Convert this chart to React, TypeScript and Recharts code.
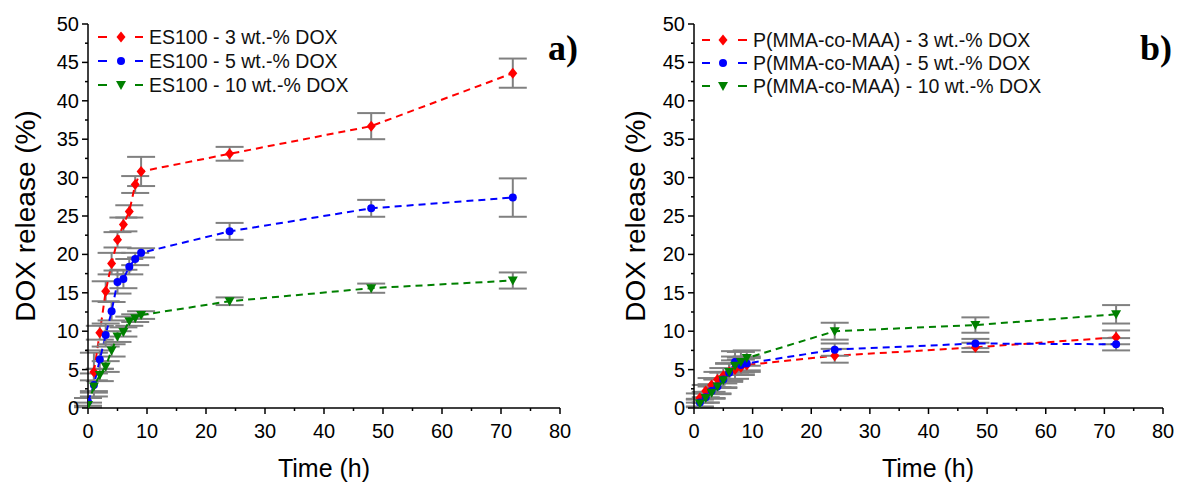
import React from "react";
import { LineChart, Line, XAxis, YAxis, ErrorBar, Label } from "recharts";

// time points (h)
const T_RED = [1, 2, 3, 4, 5, 6, 7, 8, 9, 24, 48, 72];
const T_ZERO = [0, 1, 2, 3, 4, 5, 6, 7, 8, 9, 24, 48, 72];

// a) ES100
const ES_3 = [4.7, 9.8, 15.2, 18.8, 21.9, 23.9, 25.6, 29.1, 30.8, 33.1, 36.7, 43.6];
const ES_3_ERR = [2.5, 0.9, 1.3, 1.4, 1.0, 0.9, 0.8, 1.1, 1.9, 0.9, 1.7, 1.9];
const ES_5 = [0.8, 3.0, 6.3, 9.5, 12.6, 16.4, 16.8, 18.4, 19.4, 20.2, 23.0, 26.0, 27.4];
const ES_5_ERR = [0.5, 1.5, 1.2, 1.5, 1.2, 1.5, 1.2, 1.0, 0.8, 0.6, 1.1, 1.1, 2.5];
const ES_10 = [0.4, 2.8, 4.3, 5.4, 7.5, 9.3, 9.9, 11.3, 11.7, 12.1, 13.9, 15.6, 16.6];
const ES_10_ERR = [0.3, 0.8, 0.8, 0.7, 0.8, 0.7, 0.6, 0.6, 0.5, 0.5, 0.5, 0.6, 1.05];

// b) P(MMA-co-MAA)
const PM_3 = [1.3, 2.2, 3.0, 3.7, 4.2, 4.7, 5.0, 5.3, 5.6, 6.8, 7.9, 9.2];
const PM_3_ERR = [0.6, 0.8, 0.9, 1.0, 1.0, 1.1, 1.2, 1.0, 0.9, 0.9, 0.6, 0.9];
const PM_5 = [0.7, 1.4, 2.2, 2.8, 3.7, 4.6, 6.0, 5.6, 5.8, 7.6, 8.4, 8.3];
const PM_5_ERR = [0.5, 0.7, 0.9, 1.0, 1.0, 1.2, 1.4, 1.0, 0.9, 0.8, 0.6, 0.8];
const PM_10 = [0.6, 1.3, 2.0, 2.8, 3.6, 4.7, 5.5, 6.0, 6.5, 10.0, 10.8, 12.2];
const PM_10_ERR = [0.5, 0.6, 0.8, 0.9, 1.0, 1.1, 1.2, 1.3, 1.0, 1.1, 1.0, 1.2];

const X_TICKS = [0, 5, 10, 15, 20, 25, 30, 35, 40, 45, 50, 55, 60, 65, 70, 75, 80];
const Y_TICKS = [0, 2.5, 5, 7.5, 10, 12.5, 15, 17.5, 20, 22.5, 25, 27.5, 30, 32.5, 35, 37.5, 40, 42.5, 45, 47.5, 50];

const LEGEND_A = ["ES100 - 3 wt.-% DOX", "ES100 - 5 wt.-% DOX", "ES100 - 10 wt.-% DOX"];
const LEGEND_B = ["P(MMA-co-MAA) - 3 wt.-% DOX", "P(MMA-co-MAA) - 5 wt.-% DOX", "P(MMA-co-MAA) - 10 wt.-% DOX"];

const RED = "#ff0000";
const BLUE = "#0000ff";
const GREEN = "#008000";
const GREY = "#808080";
const FONT = "'Liberation Sans', Arial, sans-serif";

const rows = (t: number[], v: number[], e: number[]) => t.map((x, i) => ({ t: x, v: v[i], e: e[i] }));

function marker(shape: string, cx: number, cy: number, color: string, key?: any) {
  if (shape === "diamond")
    return <path key={key} d={`M${cx},${cy - 5.5}L${cx + 4.5},${cy}L${cx},${cy + 5.5}L${cx - 4.5},${cy}Z`} fill={color} />;
  if (shape === "circle") return <circle key={key} cx={cx} cy={cy} r={4} fill={color} />;
  return <path key={key} d={`M${cx - 5},${cy - 4}L${cx + 5},${cy - 4}L${cx},${cy + 5}Z`} fill={color} />;
}

const dotFor = (shape: string, color: string) => (p: any) => marker(shape, p.cx, p.cy, color, p.index);

function XTick({ x, y, payload }: any) {
  const major = payload.value % 10 === 0;
  return (
    <g>
      <line x1={x} x2={x} y1={y} y2={y + (major ? 6 : 3)} stroke="#000" strokeWidth={1.5} />
      {major && (
        <text x={x} y={y + 29.5} textAnchor="middle" fontSize={20} fontFamily={FONT} fill="#000">
          {payload.value}
        </text>
      )}
    </g>
  );
}

function YTick({ x, y, payload }: any) {
  const major = payload.value % 5 === 0;
  return (
    <g>
      <line x1={x} x2={x - (major ? 6 : 3)} y1={y} y2={y} stroke="#000" strokeWidth={1.5} />
      {major && (
        <text x={x - 9} y={y + 7} textAnchor="end" fontSize={20} fontFamily={FONT} fill="#000">
          {payload.value}
        </text>
      )}
    </g>
  );
}

type Series = { data: { t: number; v: number; e: number }[]; color: string; shape: string };

function Panel({ series, width, right, yAxisW, yTitleX, xTitleX }: { series: Series[]; width: number; right: number; yAxisW: number; yTitleX: number; xTitleX: number }) {
  return (
    <LineChart width={width} height={486} margin={{ top: 24, right, bottom: 0, left: 0 }}>
      <XAxis
        dataKey="t"
        type="number"
        domain={[0, 80]}
        ticks={X_TICKS}
        allowDataOverflow
        height={78}
        tickSize={0}
        tickMargin={0}
        tickLine={false}
        axisLine={{ stroke: "#000", strokeWidth: 1.5 }}
        tick={<XTick />}
        interval={0}
      >
        <Label
          content={() => (
            <text x={xTitleX} y={477} textAnchor="middle" fontSize={25} fontFamily={FONT} fill="#000">
              Time (h)
            </text>
          )}
        />
      </XAxis>
      <YAxis
        type="number"
        domain={[0, 50]}
        ticks={Y_TICKS}
        allowDataOverflow
        width={yAxisW}
        tickSize={0}
        tickMargin={0}
        tickLine={false}
        axisLine={{ stroke: "#000", strokeWidth: 1.5 }}
        tick={<YTick />}
        interval={0}
      >
        <Label
          content={() => (
            <text
              x={yTitleX}
              y={216}
              transform={`rotate(-90 ${yTitleX} 216)`}
              textAnchor="middle"
              dominantBaseline="central"
              fontSize={28}
              fontFamily={FONT}
              fill="#000"
            >
              DOX release (%)
            </text>
          )}
        />
      </YAxis>
      {series.map((s, i) => (
        <Line
          key={i}
          data={s.data}
          dataKey="v"
          type="linear"
          stroke={s.color}
          strokeWidth={2}
          strokeDasharray="7 5"
          dot={dotFor(s.shape, s.color)}
          activeDot={false}
          isAnimationActive={false}
        >
          <ErrorBar dataKey="e" direction="y" width={14} stroke={GREY} strokeWidth={2} />
        </Line>
      ))}
    </LineChart>
  );
}

function LegendBox({ labels, left, tops, dash }: { labels: string[]; left: number; tops: number[]; dash: number[] }) {
  const colors = [RED, BLUE, GREEN];
  const shapes = ["diamond", "circle", "triangle"];
  return (
    <>
      {labels.map((lab, i) => (
        <div key={i} style={{ position: "absolute", left, top: tops[i] - 11, height: 22, display: "flex", alignItems: "center" }}>
          <svg width={53} height={22}>
            <line x1={dash[0]} x2={dash[1]} y1={11} y2={11} stroke={colors[i]} strokeWidth={2} />
            {marker(shapes[i], dash[2], 11, colors[i])}
            <line x1={dash[3]} x2={dash[4]} y1={11} y2={11} stroke={colors[i]} strokeWidth={2} />
          </svg>
          <span style={{ fontFamily: FONT, fontSize: 19.5, lineHeight: "22px", color: "#111" }}>{lab}</span>
        </div>
      ))}
    </>
  );
}

export default function App() {
  const a: Series[] = [
    { data: rows(T_RED, ES_3, ES_3_ERR), color: RED, shape: "diamond" },
    { data: rows(T_ZERO, ES_5, ES_5_ERR), color: BLUE, shape: "circle" },
    { data: rows(T_ZERO, ES_10, ES_10_ERR), color: GREEN, shape: "triangle" },
  ];
  const b: Series[] = [
    { data: rows(T_RED, PM_3, PM_3_ERR), color: RED, shape: "diamond" },
    { data: rows(T_RED, PM_5, PM_5_ERR), color: BLUE, shape: "circle" },
    { data: rows(T_RED, PM_10, PM_10_ERR), color: GREEN, shape: "triangle" },
  ];
  return (
    <div style={{ position: "fixed", left: 0, top: 0, width: 1180, height: 486, background: "#fff", overflow: "hidden" }}>
      <div style={{ position: "absolute", left: 0, top: 0 }}>
        <Panel series={a} width={600} right={40} yAxisW={88} yTitleX={25} xTitleX={324} />
      </div>
      <div style={{ position: "absolute", left: 600, top: 0 }}>
        <Panel series={b} width={580} right={17} yAxisW={94} yTitleX={35} xTitleX={328} />
      </div>
      <LegendBox labels={LEGEND_A} left={96} tops={[37, 61, 85]} dash={[2, 11, 25, 39, 47]} />
      <LegendBox labels={LEGEND_B} left={700} tops={[40, 63, 86]} dash={[2, 10, 23, 38, 47]} />
      <div style={{ position: "absolute", left: 548, top: 30, fontFamily: "'Liberation Serif', 'Times New Roman', serif", fontWeight: "bold", fontSize: 36, lineHeight: "36px" }}>
        a)
      </div>
      <div style={{ position: "absolute", left: 1140, top: 30, fontFamily: "'Liberation Serif', 'Times New Roman', serif", fontWeight: "bold", fontSize: 36, lineHeight: "36px" }}>
        b)
      </div>
    </div>
  );
}
